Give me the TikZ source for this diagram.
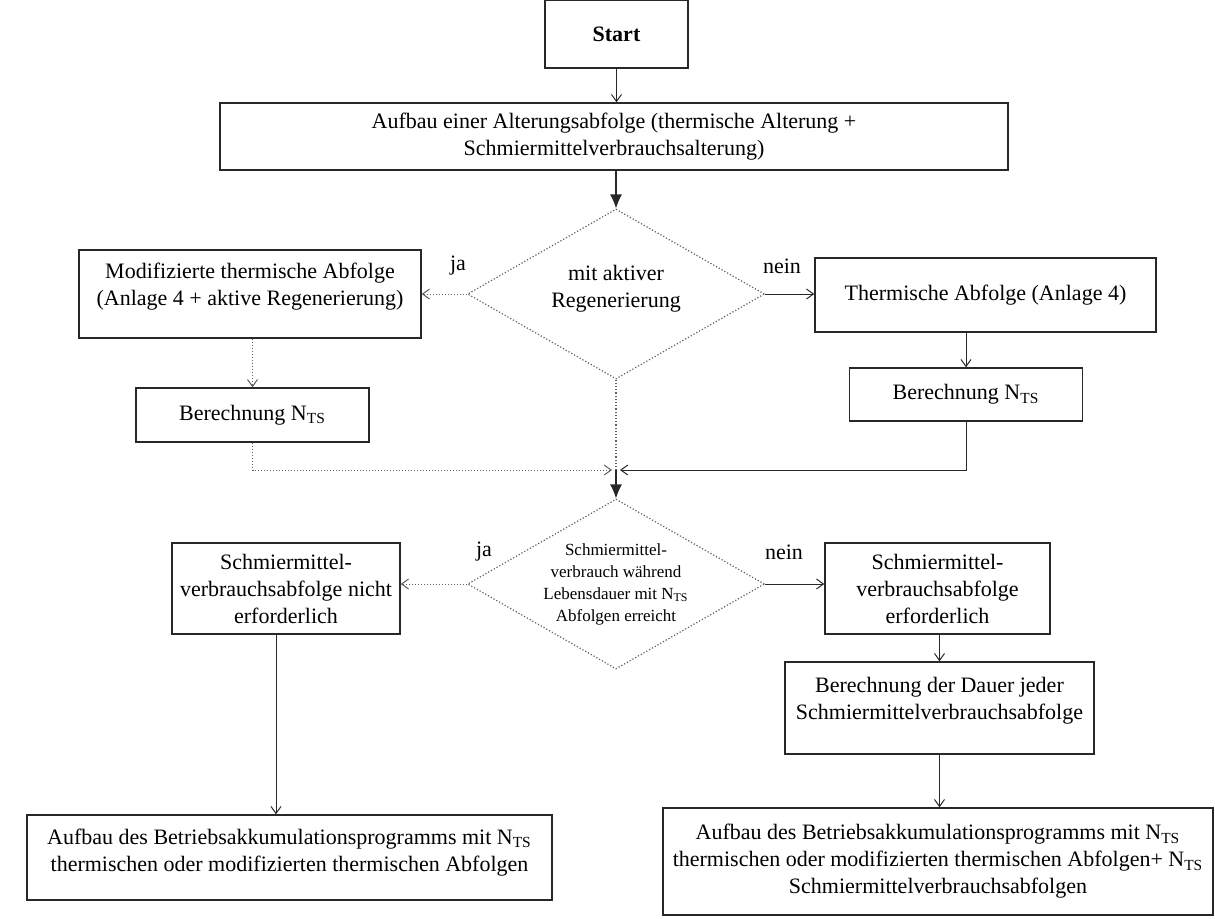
\documentclass[tikz,border=0pt]{standalone}
\usepackage{fontspec}
\setmainfont{Liberation Serif}
\usepackage{xcolor}
\usetikzlibrary{arrows.meta,shapes.geometric,positioning}
\definecolor{LineDark}{RGB}{40,40,40}
\definecolor{DotGray}{RGB}{95,95,95}
\newcommand{\nts}{N\textsubscript{TS}}

\tikzset{
  flowbox/.style={draw=LineDark,line width=0.7pt,align=center,inner sep=2pt,
    font=\fontsize{11}{13.5}\selectfont},
  decision/.style={diamond,draw=DotGray,densely dotted,line width=0.6pt,
    aspect=1.75,inner sep=0pt,align=center,
    minimum width=148.5pt,minimum height=85pt},
  link/.style={draw=LineDark,line width=0.5pt,-{Straight Barb[length=3.5pt,width=5pt]}},
  dotlink/.style={link,draw=DotGray,densely dotted},
  bigarrow/.style={draw=LineDark,line width=0.6pt,-{Latex[length=7pt,width=6pt]}},
  answer/.style={font=\fontsize{11}{13}\selectfont}
}

\begin{document}
\begin{tikzpicture}[x=0.5pt,y=-0.5pt]
  \useasboundingbox (0,0) rectangle (1215,918);

  % upper part
  \node[flowbox,minimum width=71.5pt,minimum height=34pt,font=\fontsize{11}{13.5}\selectfont\bfseries]
    (start) at (616.5,34) {Start};
  \node[flowbox,minimum width=394pt,minimum height=33.5pt] (aufbau) at (614,136.5)
    {Aufbau einer Alterungsabfolge (thermische Alterung +\\Schmiermittelverbrauchsalterung)};
  \node[decision,font=\fontsize{11}{13.5}\selectfont] (regen) at (616,294)
    {mit aktiver\\Regenerierung\\[-5.5pt]};
  \node[flowbox,minimum width=171pt,minimum height=44pt] (modab) at (250,294)
    {Modifizierte thermische Abfolge\\(Anlage 4 + aktive Regenerierung)\\[-4pt]};
  \node[flowbox,minimum width=170.5pt,minimum height=37pt] (thermab) at (985.5,295)
    {Thermische Abfolge (Anlage 4)};
  \node[flowbox,minimum width=116.5pt,minimum height=27pt] (berl) at (252.5,415)
    {Berechnung \nts};
  \node[flowbox,minimum width=116.5pt,minimum height=26.5pt] (berr) at (966,394.5)
    {Berechnung \nts};
  \coordinate (merge) at (616,470);

  % lower part
  \node[decision,font=\fontsize{8.5}{11}\selectfont] (schmier) at (616,584)
    {Schmiermittel-\\verbrauch während\\Lebensdauer mit \nts\\Abfolgen erreicht};
  \node[flowbox,minimum width=114pt,minimum height=45.5pt] (nicht) at (286,588.5)
    {Schmiermittel-\\verbrauchsabfolge nicht\\erforderlich};
  \node[flowbox,minimum width=112.5pt,minimum height=45.5pt] (erf) at (937.5,588.5)
    {Schmiermittel-\\verbrauchsabfolge\\erforderlich};
  \node[flowbox,minimum width=154.5pt,minimum height=46pt] (dauer) at (939.5,708)
    {Berechnung der Dauer jeder\\Schmiermittelverbrauchsabfolge\\[-4pt]};
  \node[flowbox,minimum width=262.5pt,minimum height=42.5pt] (progl) at (289.5,857.5)
    {Aufbau des Betriebsakkumulationsprogramms mit \nts\\thermischen oder modifizierten thermischen Abfolgen\\[-6pt]};
  \node[flowbox,minimum width=275pt,minimum height=53.5pt] (progr) at (938,861.5)
    {Aufbau des Betriebsakkumulationsprogramms mit \nts\\thermischen oder modifizierten thermischen Abfolgen+ \nts\\Schmiermittelverbrauchsabfolgen};

  % answers
  \node[answer] (ja1) at (458,266) {ja};
  \node[answer] (nein1) at (782,266) {nein};
  \node[answer] (ja2) at (484,552) {ja};
  \node[answer] (nein2) at (784,552) {nein};

  % connectors
  \draw[link] (start.south) -- (start.south |- aufbau.north);
  \draw[bigarrow] (aufbau.south -| regen.north) -- (regen.north);
  \draw[dotlink] (regen.west) -- (modab.east |- regen.west);
  \draw[link] (regen.east) -- (thermab.west |- regen.east);
  \draw[dotlink] (modab.south -| berl.north) -- (berl.north);
  \draw[link] (thermab.south -| berr.north) -- (berr.north);
  \draw[dotlink] (berl.south) |- ([xshift=-2pt]merge);
  \draw[link] (berr.south) |- ([xshift=2pt]merge);
  \draw[DotGray,densely dotted,line width=0.6pt] (regen.south) -- (merge);
  \draw[bigarrow] (merge) -- (schmier.north);
  \draw[dotlink] (schmier.west) -- (nicht.east |- schmier.west);
  \draw[link] (schmier.east) -- (erf.west |- schmier.east);
  \draw[link] (erf.south -| dauer.north) -- (dauer.north);
  \draw[link] (dauer.south) -- (dauer.south |- progr.north);
  \draw[link] ([xshift=-5pt]nicht.south) -- ([xshift=-5pt]nicht.south |- progl.north);
\end{tikzpicture}
\end{document}
